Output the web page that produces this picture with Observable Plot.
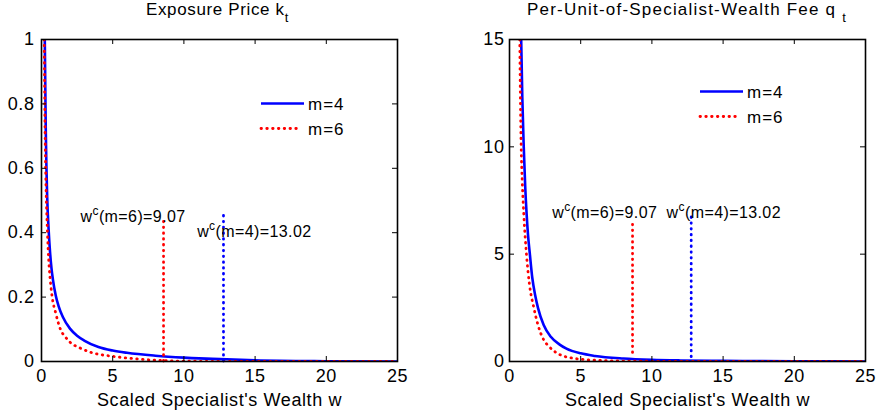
<!DOCTYPE html>
<html><head><meta charset="utf-8">
<script src="https://cdn.jsdelivr.net/npm/d3@7"></script>
<script src="https://cdn.jsdelivr.net/npm/@observablehq/plot@0.6"></script>
<style>
body{margin:0;background:#fff;}
#wrap{position:relative;width:879px;height:415px;overflow:hidden;font-family:"Liberation Sans",Arial,sans-serif;}
#wrap svg{position:absolute;top:0;}
</style></head><body><div id="wrap"></div>
<script>
const titleK = "Exposure Price k";
const titleQ = "Per-Unit-of-Specialist-Wealth Fee q ";
const xLabel = "Scaled Specialist's Wealth w";
const xTicks = [0, 5, 10, 15, 20, 25];
const kTicks = [0, 0.2, 0.4, 0.6, 0.8, 1];
const qTicks = [0, 5, 10, 15];
const seriesNames = ["m=4", "m=6"];

// Exposure price k_t
const wK4 = [0.23,0.3,0.4,0.5,0.6,0.7,0.8,1.0,1.2,1.5,2,2.5,3,4,5,6,8,10,12,13,15,20,25];
const k4  = [1.0,0.72,0.51,0.41,0.34,0.29,0.255,0.205,0.172,0.138,0.102,0.08,0.065,0.045,0.034,0.027,0.018,0.012,0.008,0.007,0.004,0.001,0];
const wK6 = [0.19,0.25,0.3,0.42,0.5,0.6,0.75,1.0,1.33,1.7,2,2.7,3.5,5,6,7,8,9,10,12,15,20,25];
const k6  = [1.0,0.72,0.58,0.4,0.32,0.26,0.2,0.15,0.1,0.075,0.06,0.042,0.028,0.016,0.011,0.007,0.004,0.002,0.001,0.0005,0,0,0];

// Per-unit fee q_t
const wQ4 = [0.82,0.9,1.0,1.1,1.2,1.3,1.43,1.6,1.8,2.0,2.4,2.9,3.5,4,5,6,8,10,12,15,20,25];
const q4  = [15,12.3,10,8.2,6.9,5.9,5.0,3.9,3.1,2.5,1.7,1.15,0.8,0.6,0.38,0.26,0.14,0.08,0.05,0.03,0.01,0];
const wQ6 = [0.72,0.77,0.82,0.9,1.0,1.1,1.19,1.4,1.71,2.0,2.41,2.7,3.1,3.6,4.5,5.5,6.4,8,10,15,20,25];
const q6  = [15,12,10,8.3,6.9,5.8,5.0,3.6,2.5,1.7,1.0,0.75,0.5,0.3,0.15,0.08,0.05,0.02,0.01,0,0,0];

// cutoff lines (as drawn) and their labels
const wcText = ["13.02", "9.07"];          // m=4, m=6
const cutKw = [12.78, 8.57], cutKtop = [0.467, 0.444], cutKbot = [0, 0];
const cutQw = [12.76, 8.64], cutQtop = [6.94, 6.57], cutQbot = [0.2, 0.4];
const annKx = [10.93, 2.74], annKy = [0.386, 0.432];
const annQx = [11.03, 3.0], annQy = [6.69, 6.69];

const BLUE = "#0000ff", RED = "#ff0000";
const DOT = "0.5,5.3";
const FONT = "'Liberation Sans',Arial,sans-serif";

function panel(o) {
  const blue = o.w4.map((w, i) => ({w, v: o.v4[i]}));
  const red = o.w6.map((w, i) => ({w, v: o.v6[i]}));
  const cuts = [0, 1].map(i => ({w: o.cw[i], y1: o.cb[i], y2: o.ct[i], c: i === 0 ? BLUE : RED}));
  const ann = [0, 1].map(i => ({x: o.ax[i], y: o.ay[i], t: `w^c(m=${i === 0 ? 4 : 6})=${wcText[i]}`}));
  const fw = o.width - o.ml - o.mr, fh = 415 - 39 - 54;
  const svg = Plot.plot({
    width: o.width, height: 415,
    marginTop: 39, marginBottom: 54, marginLeft: o.ml, marginRight: o.mr,
    style: `font-family:${FONT};font-size:18px;letter-spacing:0.6px;color:#000;background:transparent;overflow:visible;`,
    x: {domain: [0, 25], ticks: xTicks},
    y: {domain: o.ydom, ticks: o.yticks},
    marks: [
      Plot.line(blue, {x: "w", y: "v", stroke: BLUE, strokeWidth: 2.6, curve: "monotone-x", clip: true}),
      Plot.line(red, {x: "w", y: "v", stroke: RED, strokeWidth: 2.8, strokeDasharray: DOT, strokeLinecap: "round", curve: "monotone-x", clip: true}),
      Plot.ruleX(cuts, {x: "w", y1: "y1", y2: "y2", stroke: "c", strokeWidth: 2.8, strokeDasharray: DOT, strokeLinecap: "round"}),
      Plot.text(ann, {x: "x", y: "y", text: "t", textAnchor: "start", lineAnchor: "bottom", fontSize: 16, fill: "#000"}),
      Plot.ruleX(xTicks, {x: d => d, insetTop: fh - 5, stroke: "#000", strokeWidth: 1}),
      Plot.ruleX(xTicks, {x: d => d, insetBottom: fh - 5, stroke: "#000", strokeWidth: 1}),
      Plot.ruleY(o.yticks, {y: d => d, insetRight: fw - 5, stroke: "#000", strokeWidth: 1}),
      Plot.ruleY(o.yticks, {y: d => d, insetLeft: fw - 5, stroke: "#000", strokeWidth: 1}),
      Plot.frame({stroke: "#000", strokeWidth: 1.6}),
      Plot.axisX(xTicks, {tickSize: 0, tickPadding: 8, tickFormat: d => String(d), label: xLabel, labelAnchor: "center", labelArrow: "none", labelOffset: 44, fill: "#000"}),
      Plot.axisY(o.yticks, {tickSize: 0, tickPadding: o.tp, tickFormat: d => String(d), label: null, fill: "#000"})
    ]
  });
  return svg;
}

const wrap = document.getElementById("wrap");
const left = panel({width: 440, ml: 41, mr: 43, w4: wK4, v4: k4, w6: wK6, v6: k6, ydom: [0, 1], yticks: kTicks,
  cw: cutKw, ct: cutKtop, cb: cutKbot, ax: annKx, ay: annKy, tp: 7});
left.style.left = "0px";
const right = panel({width: 439, ml: 69, mr: 14, w4: wQ4, v4: q4, w6: wQ6, v6: q6, ydom: [0, 15], yticks: qTicks,
  cw: cutQw, ct: cutQtop, cb: cutQbot, ax: annQx, ay: annQy, tp: 5});
right.style.left = "440px";
wrap.appendChild(left);
wrap.appendChild(right);

// superscript c in annotations
d3.select(wrap).selectAll("text").filter(function() { return this.textContent.includes("^c"); }).each(function() {
  const [a, rest] = this.textContent.split("^c");
  const s = d3.select(this).style("letter-spacing", "0.4px");
  s.text(null);
  s.append("tspan").text(a);
  s.append("tspan").attr("dy", -7).attr("font-size", 12).text("c");
  s.append("tspan").attr("dy", 7).text(rest);
});

// overlay: titles and legends
const ov = d3.select(wrap).append("svg").attr("width", 879).attr("height", 415).style("left", "0px")
  .style("font-family", FONT);
function title(x0, len, str) {
  const t = ov.append("text").attr("x", x0).attr("y", 15).attr("font-size", 17).attr("fill", "#000");
  t.append("tspan").attr("textLength", len).attr("lengthAdjust", "spacing").text(str);
  t.append("tspan").attr("dy", 7).attr("font-size", 13).text("t");
}
title(146, 138, titleK);
title(527, 314, titleQ);
function legend(x0, y0) {
  [0, 1].forEach(i => {
    const y = y0 + i * 25;
    ov.append("line").attr("x1", x0).attr("x2", i === 0 ? x0 + 43 : x0 + 40).attr("y1", y).attr("y2", y)
      .attr("stroke", i === 0 ? BLUE : RED).attr("stroke-width", i === 0 ? 2.6 : 2.8)
      .attr("stroke-dasharray", i === 0 ? null : DOT).attr("stroke-linecap", i === 0 ? null : "round");
    ov.append("text").attr("x", x0 + 47).attr("y", y).attr("dy", "0.36em").attr("font-size", 17)
      .attr("letter-spacing", "1px").attr("fill", "#000").text(seriesNames[i]);
  });
}
legend(261, 103.5);
legend(700, 91.5);
</script></body></html>
